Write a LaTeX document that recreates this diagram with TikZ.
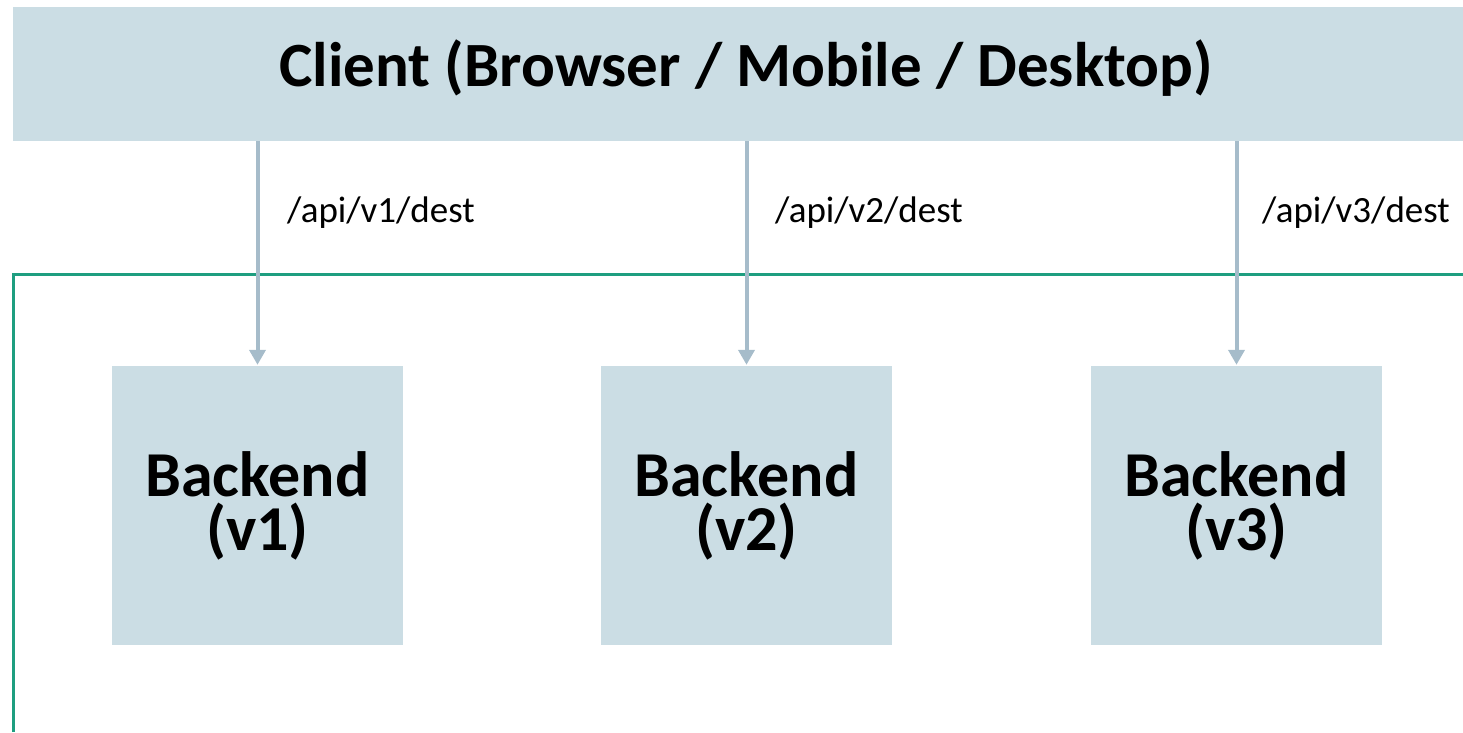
\documentclass[tikz,border=0pt]{standalone}
\usepackage{fontspec}
\setmainfont{Carlito}
\usetikzlibrary{arrows.meta}
\definecolor{boxfill}{RGB}{203,221,228}
\definecolor{arrowgray}{RGB}{166,188,202}
\definecolor{zonegreen}{RGB}{30,158,128}
\begin{document}
\begin{tikzpicture}[x = 1pt, y = -1pt,
                    client/.style     = {rectangle, fill = boxfill, minimum width = 1466pt, minimum height = 134pt, inner sep = 0pt, text height = 46pt, text depth = 22pt, font = \fontsize{63}{66}\selectfont\bfseries},
                    backend/.style    = {rectangle, fill = boxfill, minimum width = 291pt, minimum height = 279pt, inner sep = 0pt, align = center, font = \fontsize{64}{54}\selectfont\bfseries},
                    route/.style      = {draw = arrowgray, line width = 4pt, shorten > = 1pt, -{Triangle[width = 16pt, length = 15pt]}},
                    routelabel/.style = {anchor = west, inner sep = 0pt, font = \fontsize{37}{40}\selectfont},
                    zone/.style       = {draw = zonegreen, line width = 3pt}
                    ]
    \useasboundingbox (0, 0) rectangle (1463, 732);

    \node[client] (client) at (746, 74) {Client (Browser / Mobile / Desktop)};

    \node[backend] (b1) at (257.5, 505.5) {Backend\\(v1)};
    \node[backend] (b2) at (746.5, 505.5) {Backend\\(v2)};
    \node[backend] (b3) at (1236.5, 505.5) {Backend\\(v3)};

    % network boundary
    \draw[zone] (13.5, 732) -- (13.5, 274.5) -- (1463, 274.5);

    \draw[route] (b1.north |- client.south) -- (b1.north);
    \draw[route] (b2.north |- client.south) -- (b2.north);
    \draw[route] (b3.north |- client.south) -- (b3.north);

    \node[routelabel] (r1) at (287, 213) {/api/v1/dest};
    \node[routelabel] (r2) at (775, 213) {/api/v2/dest};
    \node[routelabel] (r3) at (1262, 213) {/api/v3/dest};
\end{tikzpicture}
\end{document}
